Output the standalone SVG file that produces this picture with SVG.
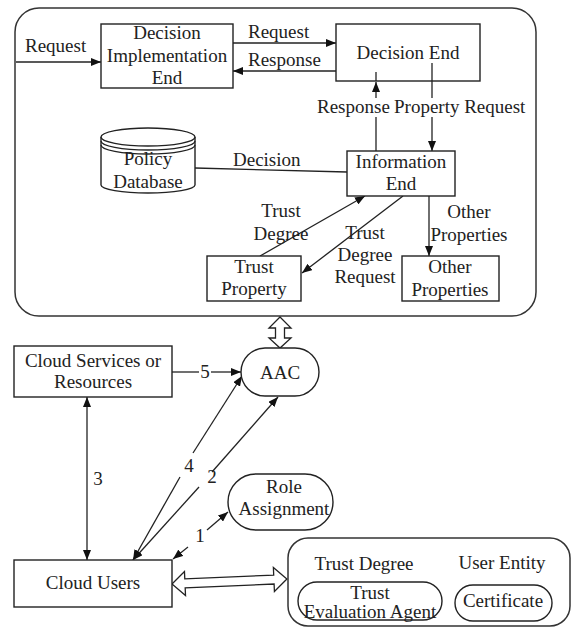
<svg xmlns="http://www.w3.org/2000/svg" width="573" height="637" viewBox="0 0 573 637" font-family="'Liberation Serif', 'DejaVu Serif', serif">
  <style>
    text { font-family: 'Liberation Serif', 'DejaVu Serif', serif; font-size: 19px; fill: #222; }
    .c { text-anchor: middle; }
    .box { fill: #fff; stroke: #222; stroke-width: 1.4; }
    .frame { fill: none; stroke: #333; stroke-width: 1.5; }
    .ln { fill: none; stroke: #222; stroke-width: 1.3; }
    .hollow { fill: #fff; stroke: #222; stroke-width: 1.3; stroke-linejoin: miter; }
  </style>
  <defs>
    <marker id="ah" markerUnits="userSpaceOnUse" markerWidth="10" markerHeight="8" refX="10" refY="4" orient="auto-start-reverse">
      <path d="M0,0 L10,4 L0,8 z" fill="#111"/>
    </marker>
  </defs>

  <!-- containers -->
  <rect id="access-frame" class="frame" x="15" y="8" width="521" height="308" rx="24"/>
  <rect id="user-frame" class="frame" x="288" y="538" width="282" height="88" rx="20"/>

  <!-- connectors -->
  <g id="connectors">
    <!-- external request -->
    <line class="ln" x1="16" y1="62" x2="101" y2="62" marker-end="url(#ah)"/>
    <!-- implementation end <-> decision end -->
    <line class="ln" x1="233" y1="43" x2="336" y2="43" marker-end="url(#ah)"/>
    <line class="ln" x1="336" y1="71" x2="233" y2="71" marker-end="url(#ah)"/>
    <!-- response (information end -> decision end) -->
    <line class="ln" x1="376" y1="151" x2="376" y2="117"/>
    <line class="ln" x1="376" y1="98" x2="376" y2="82" marker-end="url(#ah)"/>
    <line class="ln" x1="376" y1="72" x2="376" y2="81"/>
    <!-- property request (decision end -> information end) -->
    <line class="ln" x1="432" y1="63" x2="432" y2="98"/>
    <line class="ln" x1="432" y1="117" x2="432" y2="151" marker-end="url(#ah)"/>
    <!-- decision (policy database - information end) -->
    <line class="ln" x1="195" y1="168" x2="347" y2="172"/>
    <!-- trust degree -->
    <line class="ln" x1="260" y1="256" x2="365" y2="196" marker-end="url(#ah)"/>
    <!-- trust degree request -->
    <line class="ln" x1="403" y1="196" x2="302" y2="273" marker-end="url(#ah)"/>
    <!-- other properties -->
    <line class="ln" x1="429" y1="196" x2="429" y2="256" marker-end="url(#ah)"/>

    <!-- frame <-> AAC hollow double arrow -->
    <polygon class="hollow" points="280,317 291,328 284.5,328 284.5,338 291,338 280,348 269,338 275.5,338 275.5,328 269,328"/>

    <!-- 5: services -> AAC -->
    <line class="ln" x1="172" y1="372" x2="199" y2="372"/>
    <line class="ln" x1="211" y1="372" x2="241" y2="372" marker-end="url(#ah)"/>
    <!-- 3: services <-> users -->
    <line class="ln" x1="87" y1="397" x2="87" y2="560" marker-start="url(#ah)" marker-end="url(#ah)"/>
    <!-- 4: users <-> AAC -->
    <line class="ln" x1="133" y1="560" x2="180" y2="477" marker-start="url(#ah)"/>
    <line class="ln" x1="193" y1="453" x2="242" y2="376" marker-end="url(#ah)"/>
    <!-- 2: users <-> AAC -->
    <line class="ln" x1="133" y1="560" x2="199" y2="487" marker-start="url(#ah)"/>
    <line class="ln" x1="212" y1="472" x2="278" y2="397" marker-end="url(#ah)"/>
    <!-- 1: users <-> role assignment -->
    <line class="ln" x1="173" y1="559" x2="188" y2="547" marker-start="url(#ah)"/>
    <line class="ln" x1="207" y1="530" x2="228" y2="512" marker-end="url(#ah)"/>
    <!-- users <-> user entity hollow double arrow -->
    <polygon class="hollow" transform="translate(172,584) rotate(-2.5)" points="0,0 13,-12 13,-4.5 102,-4.5 102,-12 115,0 102,12 102,4.5 13,4.5 13,12"/>
  </g>

  <!-- connector labels -->
  <g id="labels">
    <text x="25" y="52">Request</text>
    <text x="248" y="38">Request</text>
    <text x="248" y="66">Response</text>
    <text x="317" y="113">Response</text>
    <text x="394" y="113">Property Request</text>
    <text x="233" y="166">Decision</text>
    <text class="c" x="281" y="217">Trust</text>
    <text class="c" x="281" y="240">Degree</text>
    <text class="c" x="365" y="239">Trust</text>
    <text class="c" x="365" y="261">Degree</text>
    <text class="c" x="365" y="283">Request</text>
    <text class="c" x="469" y="218">Other</text>
    <text class="c" x="469" y="241">Properties</text>
    <text class="c" x="205" y="378">5</text>
    <text class="c" x="98" y="485">3</text>
    <text class="c" x="189" y="472">4</text>
    <text class="c" x="212" y="483">2</text>
    <text class="c" x="200" y="542">1</text>
  </g>

  <!-- nodes -->
  <g id="decision-implementation-end">
    <rect class="box" x="101" y="24" width="132" height="64"/>
    <text class="c" x="167" y="39">Decision</text>
    <text class="c" x="167" y="62">Implementation</text>
    <text class="c" x="167" y="84">End</text>
  </g>
  <g id="decision-end">
    <rect class="box" x="336" y="24" width="144" height="57" style="fill:none"/>
    <text class="c" x="408" y="59">Decision End</text>
  </g>
  <g id="information-end">
    <rect class="box" x="347" y="151" width="108" height="45"/>
    <text class="c" x="401" y="168">Information</text>
    <text class="c" x="401" y="190">End</text>
  </g>
  <g id="policy-database">
    <path class="box" d="M101,137 L101,185 A47,8 0 0 0 195,185 L195,137"/>
    <ellipse class="box" cx="148" cy="137" rx="47" ry="9"/>
    <path class="ln" d="M101,141 A47,9 0 0 0 195,141"/>
    <path class="ln" d="M101,145 A47,9 0 0 0 195,145"/>
    <text class="c" x="148" y="165">Policy</text>
    <text class="c" x="148" y="188">Database</text>
  </g>
  <g id="trust-property">
    <rect class="box" x="207" y="256" width="94" height="45"/>
    <text class="c" x="254" y="273">Trust</text>
    <text class="c" x="254" y="295">Property</text>
  </g>
  <g id="other-properties">
    <rect class="box" x="402" y="256" width="97" height="45"/>
    <text class="c" x="450" y="273">Other</text>
    <text class="c" x="450" y="296">Properties</text>
  </g>
  <g id="aac">
    <rect class="box" x="241" y="348" width="78" height="48" rx="24"/>
    <text class="c" x="280" y="379">AAC</text>
  </g>
  <g id="cloud-services">
    <rect class="box" x="14" y="346" width="158" height="51"/>
    <text class="c" x="93" y="367">Cloud Services or</text>
    <text class="c" x="93" y="388">Resources</text>
  </g>
  <g id="role-assignment">
    <rect class="box" x="228" y="474" width="105" height="56" rx="28"/>
    <text class="c" x="284" y="493">Role</text>
    <text class="c" x="284" y="515">Assignment</text>
  </g>
  <g id="cloud-users">
    <rect class="box" x="14" y="560" width="158" height="47"/>
    <text class="c" x="93" y="589">Cloud Users</text>
  </g>
  <g id="user-entity">
    <text class="c" x="364" y="570">Trust Degree</text>
    <text class="c" x="502" y="569">User Entity</text>
  </g>
  <g id="trust-evaluation-agent">
    <rect class="box" x="298" y="582" width="144" height="38" rx="19"/>
    <text class="c" x="370" y="599">Trust</text>
    <text class="c" x="370" y="618">Evaluation Agent</text>
  </g>
  <g id="certificate">
    <rect class="box" x="455" y="585" width="97" height="36" rx="18"/>
    <text class="c" x="503" y="607">Certificate</text>
  </g>
</svg>
